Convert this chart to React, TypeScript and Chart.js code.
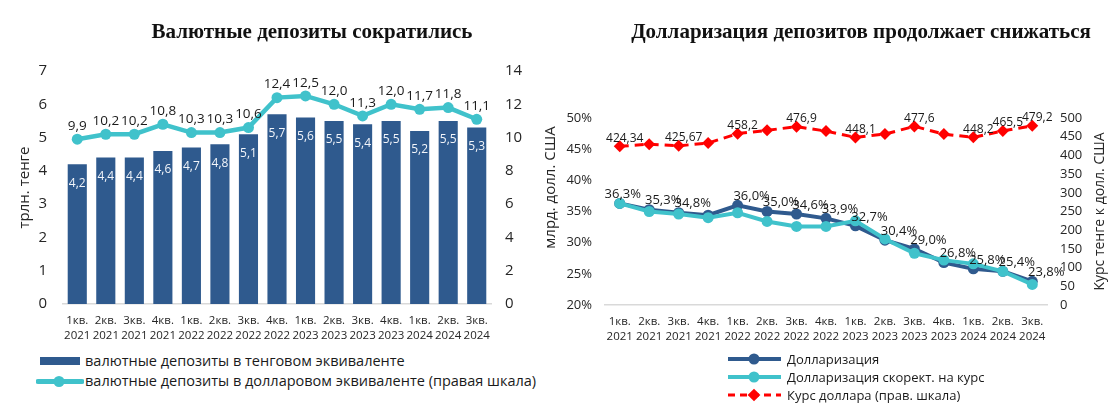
import React, { useEffect, useRef } from 'react';
import { Chart, registerables } from 'chart.js';

Chart.register(...registerables);

// ---------- data ----------
const quarterLabels: string[][] = [
  ['1кв.', '2021'], ['2кв.', '2021'], ['3кв.', '2021'], ['4кв.', '2021'],
  ['1кв.', '2022'], ['2кв.', '2022'], ['3кв.', '2022'], ['4кв.', '2022'],
  ['1кв.', '2023'], ['2кв.', '2023'], ['3кв.', '2023'], ['4кв.', '2023'],
  ['1кв.', '2024'], ['2кв.', '2024'], ['3кв.', '2024'],
];

const depositsKzt = [4.2, 4.4, 4.4, 4.6, 4.7, 4.8, 5.1, 5.7, 5.6, 5.5, 5.4, 5.5, 5.2, 5.5, 5.3];
const depositsUsd = [9.9, 10.2, 10.2, 10.8, 10.3, 10.3, 10.6, 12.4, 12.5, 12.0, 11.3, 12.0, 11.7, 11.8, 11.1];

const dollarization = [36.3, 35.3, 34.8, 34.4, 36.0, 35.0, 34.6, 33.9, 32.7, 30.4, 29.0, 26.8, 25.8, 25.4, 23.8];
const dollarizationLabels = ['36,3%', '35,3%', '34,8%', null, '36,0%', '35,0%', '34,6%', '33,9%', '32,7%', '30,4%', '29,0%', '26,8%', '25,8%', '25,4%', '23,8%'];
const dollarizationAdjusted = [36.3, 35.0, 34.6, 34.0, 34.8, 33.4, 32.6, 32.6, 33.5, 30.6, 28.3, 27.2, 26.6, 25.4, 23.3];
const usdRate = [424.34, 430, 425.67, 433, 458.2, 467, 476.9, 465, 448.1, 457, 477.6, 457, 448.2, 465.5, 479.2];
const usdRateLabels = ['424,34', null, '425,67', null, '458,2', null, '476,9', null, '448,1', null, '477,6', null, '448,2', '465,5', '479,2'];

const leftTitle = 'Валютные депозиты сократились';
const rightTitle = 'Долларизация депозитов продолжает снижаться';
const leftAxisTitle = 'трлн. тенге';
const leftRightAxisTitle = 'млрд. долл. США';
const rightRightAxisTitle = 'Курс тенге к долл. США';
const seriesNames = {
  kzt: 'валютные депозиты в тенговом эквиваленте',
  usd: 'валютные депозиты в долларовом эквиваленте (правая шкала)',
  dollarization: 'Долларизация',
  adjusted: 'Долларизация скорект. на курс',
  rate: 'Курс доллара (прав. шкала)',
};

// ---------- styles ----------
const SANS = "'Open Sans', 'Noto Sans', sans-serif";
const SERIF = "'Liberation Serif', 'DejaVu Serif', serif";
const NAVY = '#2F5A8E';
const TEAL = '#40C2CB';
const RED = '#FF0000';
const TEXT = '#262626';

const fmt1 = (v: number) => v.toFixed(1).replace('.', ',');

// draws value labels stored on datasets
const valueLabelsPlugin = {
  id: 'valueLabels',
  afterDatasetsDraw(chart: any) {
    const ctx = chart.ctx;
    chart.data.datasets.forEach((ds: any, i: number) => {
      const cfg = ds.valueLabels;
      if (!cfg) return;
      const meta = chart.getDatasetMeta(i);
      meta.data.forEach((el: any, j: number) => {
        const text = cfg.texts[j];
        if (text == null) return;
        const { x, y } = el.getProps(['x', 'y'], true);
        const dx = typeof cfg.dx === 'function' ? cfg.dx(j) : cfg.dx || 0;
        ctx.save();
        ctx.font = cfg.font;
        ctx.fillStyle = cfg.color;
        ctx.textAlign = 'center';
        ctx.textBaseline = 'middle';
        ctx.fillText(text, x + dx, y + cfg.dy);
        ctx.restore();
      });
    });
  },
};

// right-side axis titles reading bottom-to-top
const sideTitlePlugin = {
  id: 'sideTitle',
  afterDraw(chart: any, _args: any, opts: any) {
    if (!opts || !opts.text) return;
    const scale = chart.scales[opts.scale];
    const { top, bottom } = chart.chartArea;
    const ctx = chart.ctx;
    ctx.save();
    ctx.translate(scale.right - opts.offset, (top + bottom) / 2);
    ctx.rotate(-Math.PI / 2);
    ctx.font = opts.font;
    ctx.fillStyle = TEXT;
    ctx.textAlign = 'center';
    ctx.textBaseline = 'middle';
    ctx.fillText(opts.text, 0, 0);
    ctx.restore();
  },
};

const xAxis = (height: number) => ({
  offset: true,
  grid: { display: false, drawTicks: false },
  border: { display: true, color: '#D9D9D9', width: 1.5 },
  ticks: {
    font: { family: SANS, size: 11.5, lineHeight: 1.25 },
    color: TEXT,
    padding: 10,
    maxRotation: 0,
    autoSkip: false,
  },
  afterFit: (s: any) => { s.height = height; },
});

export default function App() {
  const leftRef = useRef<HTMLCanvasElement>(null);
  const rightRef = useRef<HTMLCanvasElement>(null);

  useEffect(() => {
    const left = new Chart(leftRef.current as HTMLCanvasElement, {
      type: 'bar',
      data: {
        labels: quarterLabels,
        datasets: [
          {
            type: 'bar',
            label: seriesNames.kzt,
            data: depositsKzt,
            backgroundColor: NAVY,
            yAxisID: 'y',
            order: 1,
            categoryPercentage: 1,
            barPercentage: 0.67,
            valueLabels: {
              texts: depositsKzt.map(fmt1),
              font: `12px ${SANS}`,
              color: '#F2F5FA',
              dy: 19,
            },
          } as any,
          {
            type: 'line',
            label: seriesNames.usd,
            data: depositsUsd,
            borderColor: TEAL,
            backgroundColor: TEAL,
            borderWidth: 4.5,
            pointRadius: 5.5,
            pointBorderWidth: 0,
            pointBackgroundColor: TEAL,
            yAxisID: 'y1',
            order: 0,
            valueLabels: {
              texts: depositsUsd.map(fmt1),
              font: `13.5px ${SANS}`,
              color: '#1A1A1A',
              dy: -13,
            },
          } as any,
        ],
      },
      options: {
        responsive: false,
        animation: false,
        layout: { padding: { top: 71, left: 0, right: 0, bottom: 0 } },
        plugins: {
          legend: { display: false },
          tooltip: { enabled: false },
          title: { display: false },
          sideTitle: { scale: 'y1', text: leftRightAxisTitle, offset: 9, font: `15px ${SANS}` },
        } as any,
        scales: {
          x: xAxis(46) as any,
          y: {
            position: 'left',
            min: 0,
            max: 7,
            ticks: { stepSize: 1, font: { family: SANS, size: 15 }, color: TEXT, padding: 16 },
            grid: { display: false, drawTicks: false },
            border: { display: false },
            title: { display: true, text: leftAxisTitle, color: TEXT, font: { family: SANS, size: 15 }, padding: { top: 16, bottom: 0 } },
            afterFit: (s: any) => { s.width = 63; },
          },
          y1: {
            position: 'right',
            min: 0,
            max: 14,
            ticks: { stepSize: 2, font: { family: SANS, size: 15 }, color: TEXT, padding: 14 },
            grid: { display: false, drawTicks: false },
            border: { display: false },
            afterFit: (s: any) => { s.width = 69; },
          },
        },
      },
      plugins: [valueLabelsPlugin, sideTitlePlugin],
    });

    const right = new Chart(rightRef.current as HTMLCanvasElement, {
      type: 'line',
      data: {
        labels: quarterLabels,
        datasets: [
          {
            label: seriesNames.dollarization,
            data: dollarization,
            borderColor: NAVY,
            backgroundColor: NAVY,
            borderWidth: 4,
            pointRadius: 5.5,
            pointBorderWidth: 0,
            pointBackgroundColor: NAVY,
            yAxisID: 'y',
            order: 2,
            valueLabels: {
              texts: dollarizationLabels,
              font: `13px ${SANS}`,
              color: '#1A1A1A',
              dx: (j: number) => (j === 0 ? 3 : 14),
              dy: -9,
            },
          } as any,
          {
            label: seriesNames.adjusted,
            data: dollarizationAdjusted,
            borderColor: TEAL,
            backgroundColor: TEAL,
            borderWidth: 4,
            pointRadius: 5.5,
            pointBorderWidth: 0,
            pointBackgroundColor: TEAL,
            yAxisID: 'y',
            order: 1,
          } as any,
          {
            label: seriesNames.rate,
            data: usdRate,
            borderColor: RED,
            backgroundColor: RED,
            borderWidth: 3,
            borderDash: [9, 6],
            pointStyle: 'rectRot',
            pointRadius: 6,
            pointBorderWidth: 0,
            pointBackgroundColor: RED,
            yAxisID: 'y1',
            order: 0,
            valueLabels: {
              texts: usdRateLabels,
              font: `12px ${SANS}`,
              color: '#1A1A1A',
              dx: 5,
              dy: -8,
            },
          } as any,
        ],
      },
      options: {
        responsive: false,
        animation: false,
        layout: { padding: { top: 118, left: 0, right: 0, bottom: 0 } },
        plugins: {
          legend: { display: false },
          tooltip: { enabled: false },
          title: { display: false },
          sideTitle: { scale: 'y1', text: rightRightAxisTitle, offset: 20, font: `14px ${SANS}` },
        } as any,
        scales: {
          x: xAxis(45) as any,
          y: {
            position: 'left',
            min: 20,
            max: 50,
            ticks: {
              stepSize: 5,
              font: { family: SANS, size: 13 },
              color: TEXT,
              padding: 13,
              callback: (v: any) => `${v}%`,
            },
            grid: { display: false, drawTicks: false },
            border: { display: false },
            afterFit: (s: any) => { s.width = 45; },
          },
          y1: {
            position: 'right',
            min: 0,
            max: 500,
            ticks: { stepSize: 50, font: { family: SANS, size: 13 }, color: TEXT, padding: 13 },
            grid: { display: false, drawTicks: false },
            border: { display: false },
            afterFit: (s: any) => { s.width = 73; },
          },
        },
      },
      plugins: [valueLabelsPlugin, sideTitlePlugin],
    });

    return () => {
      left.destroy();
      right.destroy();
    };
  }, []);

  const legendText = (size: number): React.CSSProperties => ({
    position: 'absolute',
    fontFamily: SANS,
    fontSize: size,
    lineHeight: '20px',
    color: '#1A1A1A',
    whiteSpace: 'nowrap',
  });

  const titleStyle = (center: number): React.CSSProperties => ({
    position: 'absolute',
    left: center - 300,
    width: 600,
    top: 18,
    textAlign: 'center',
    fontFamily: SERIF,
    fontWeight: 'bold',
    fontSize: 21,
    lineHeight: '26px',
    color: '#111',
    whiteSpace: 'nowrap',
  });

  return (
    <div style={{ position: 'fixed', left: 0, top: 0, width: 1120, height: 406, background: '#fff', overflow: 'hidden' }}>
      <canvas ref={leftRef} width={560} height={350} style={{ position: 'absolute', left: 0, top: 0, display: 'block' }} />
      <canvas ref={rightRef} width={560} height={350} style={{ position: 'absolute', left: 560, top: 0, display: 'block' }} />

      <div style={titleStyle(312)}>{leftTitle}</div>
      <div style={titleStyle(861)}>{rightTitle}</div>

      {/* left legend */}
      <svg style={{ position: 'absolute', left: 36, top: 351 }} width={48} height={40}>
        <rect x={4} y={6} width={40} height={8} fill={NAVY} />
        <line x1={2} y1={30.5} x2={46} y2={30.5} stroke={TEAL} strokeWidth={5} strokeLinecap="round" />
        <circle cx={23} cy={30.5} r={5.5} fill={TEAL} />
      </svg>
      <div style={{ ...legendText(14.5), left: 85, top: 351 }}>{seriesNames.kzt}</div>
      <div style={{ ...legendText(14.5), left: 85, top: 371 }}>{seriesNames.usd}</div>

      {/* right legend */}
      <svg style={{ position: 'absolute', left: 724, top: 349 }} width={62} height={54}>
        <line x1={4} y1={10} x2={57} y2={10} stroke={NAVY} strokeWidth={4} />
        <circle cx={30} cy={10} r={5.5} fill={NAVY} />
        <line x1={4} y1={28} x2={57} y2={28} stroke={TEAL} strokeWidth={4} />
        <circle cx={30} cy={28} r={5.5} fill={TEAL} />
        <line x1={4} y1={46} x2={57} y2={46} stroke={RED} strokeWidth={3} strokeDasharray="7 5" />
        <rect x={25.5} y={41.5} width={9} height={9} fill={RED} transform="rotate(45 30 46)" />
      </svg>
      <div style={{ ...legendText(13), left: 787, top: 349 }}>{seriesNames.dollarization}</div>
      <div style={{ ...legendText(13), left: 787, top: 367 }}>{seriesNames.adjusted}</div>
      <div style={{ ...legendText(13), left: 787, top: 385 }}>{seriesNames.rate}</div>
    </div>
  );
}
